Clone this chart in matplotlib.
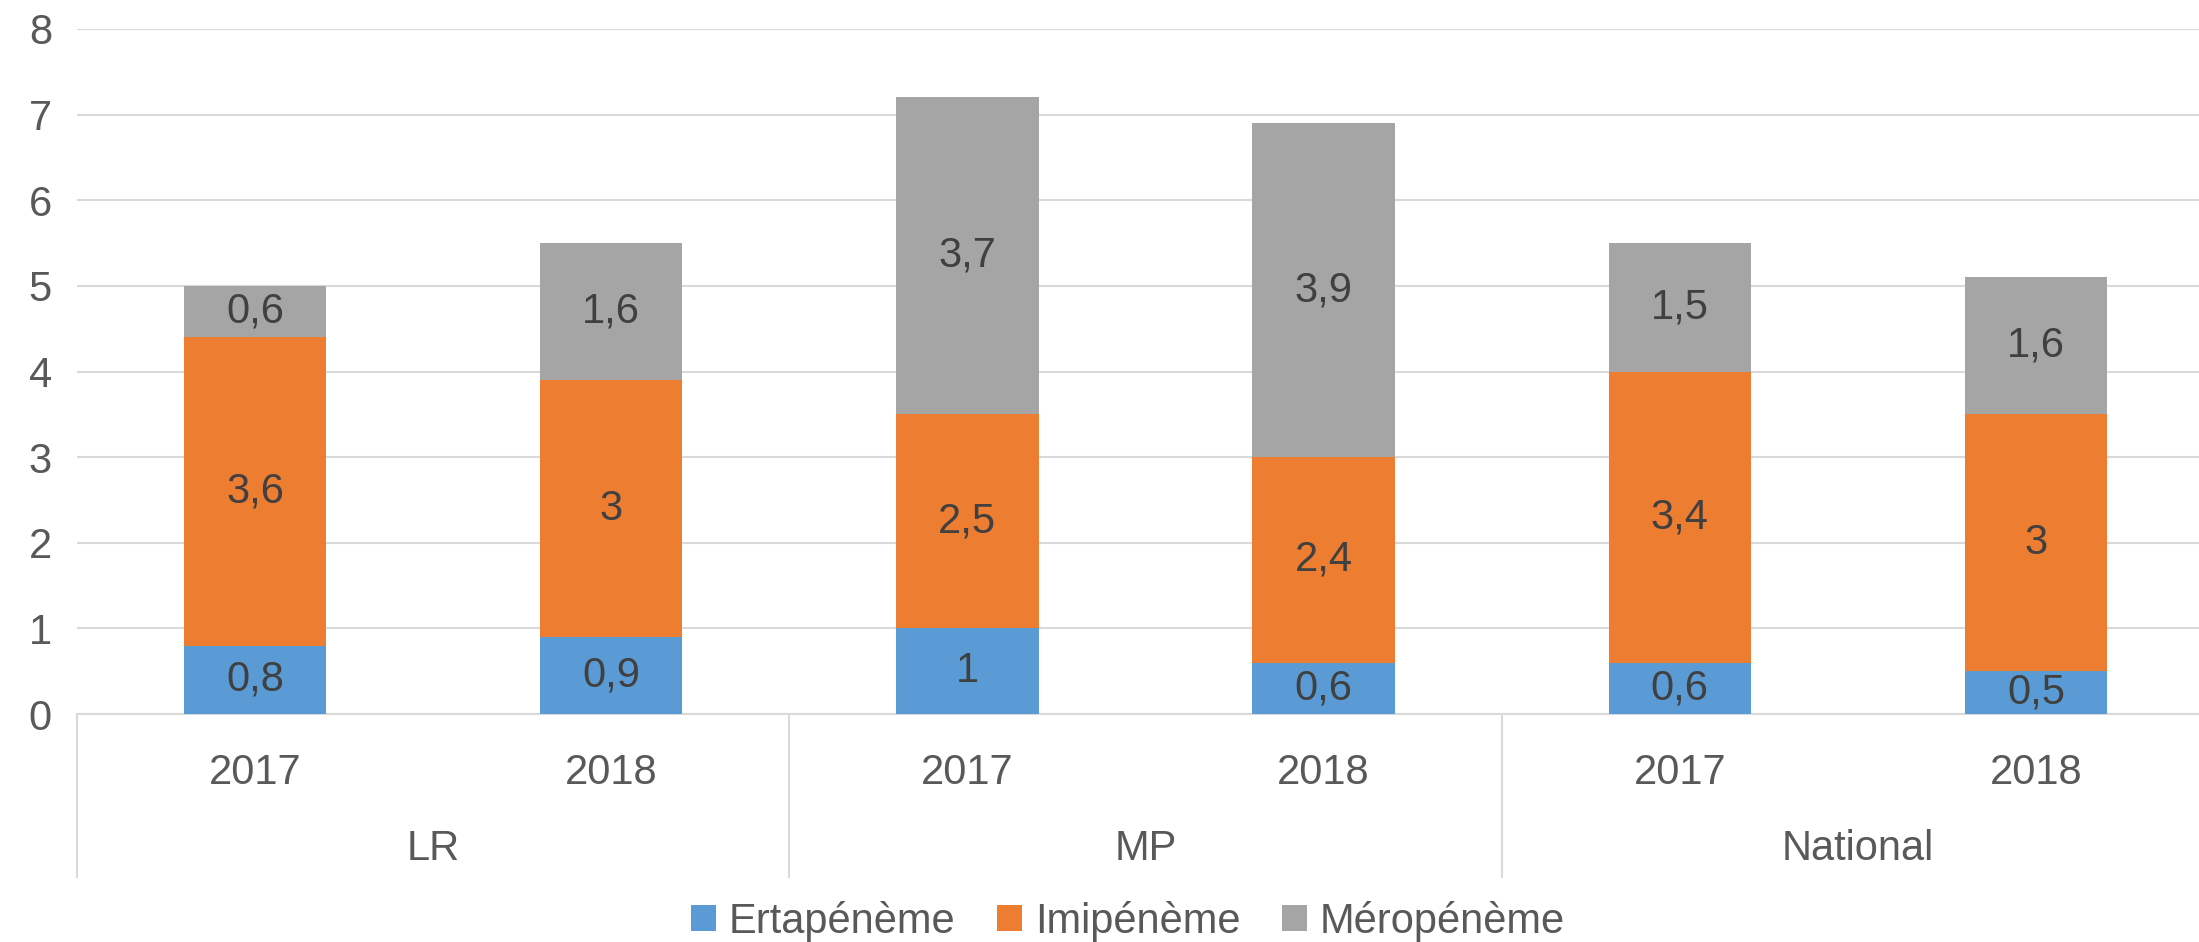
import numpy as np
import matplotlib
matplotlib.use("Agg")
import matplotlib.pyplot as plt
from matplotlib.patches import Patch
import matplotlib.transforms as mtransforms

plt.rcParams['font.family'] = ['Liberation Sans Narrow', 'Liberation Sans', 'DejaVu Sans']

# data
groups = ["LR", "MP", "National"]
years = ["2017", "2018"]
series_names = ["Ertapénème", "Imipénème", "Méropénème"]
ertapeneme = [0.8, 0.9, 1.0, 0.6, 0.6, 0.5]
imipeneme = [3.6, 3.0, 2.5, 2.4, 3.4, 3.0]
meropeneme = [0.6, 1.6, 3.7, 3.9, 1.5, 1.6]

colors = ["#5B9BD5", "#ED7D31", "#A5A5A5"]
text_col = "#595959"
grid_col = "#D9D9D9"
fs = 30


def fmt(v):
    s = ("%g" % v)
    return s.replace(".", ",")


fig = plt.figure(figsize=(21.99, 9.42), dpi=100)
ax = fig.add_axes([77 / 2199, 1 - 714 / 942, (2214 - 77) / 2199, (714 - 29) / 942])

x = np.arange(len(ertapeneme))
bottom = np.zeros(len(x))
for vals, col in zip([ertapeneme, imipeneme, meropeneme], colors):
    vals = np.array(vals)
    ax.bar(x, vals, width=0.4, bottom=bottom, color=col, zorder=3)
    for xi, b, v in zip(x, bottom, vals):
        ax.text(xi, b + v / 2, fmt(v), ha="center", va="center",
                fontsize=fs, color="#404040", zorder=4)
    bottom += vals

ax.set_xlim(-0.5, len(x) - 0.5)
ax.set_ylim(0, 8)
ax.set_yticks(range(0, 9))
ax.yaxis.grid(True, color=grid_col, linewidth=1.5, zorder=0)
ax.tick_params(axis="y", length=0, labelsize=fs, labelcolor=text_col, pad=18)
ax.tick_params(axis="x", length=0, labelsize=fs, labelcolor=text_col, pad=28)
ax.set_xticks(x)
ax.set_xticklabels(years * len(groups))
for side in ["top", "right", "left"]:
    ax.spines[side].set_visible(False)
ax.spines["bottom"].set_color(grid_col)
ax.spines["bottom"].set_linewidth(1.5)

# group separators and labels
trans = mtransforms.blended_transform_factory(ax.transData, ax.transAxes)
sep_low = -(877 - 714) / (714 - 29)
for i in range(len(groups) + 1):
    ax.plot([i * 2 - 0.5, i * 2 - 0.5], [0, sep_low], color=grid_col,
            linewidth=1.5, transform=trans, clip_on=False)
for i, g in enumerate(groups):
    ax.text(i * 2 + 0.5, -(849 - 714) / (714 - 29), g, transform=trans,
            ha="center", va="center", fontsize=fs, color=text_col)

handles = [Patch(facecolor=c, edgecolor="none") for c in colors]
fig.legend(handles, series_names, loc="center", bbox_to_anchor=(1128 / 2199, 1 - 921 / 942),
           ncol=3, frameon=False, fontsize=fs, labelcolor=text_col,
           handlelength=0.6, handleheight=0.6, handletextpad=0.3, columnspacing=1.0)

fig.savefig("out.png", dpi=100)
